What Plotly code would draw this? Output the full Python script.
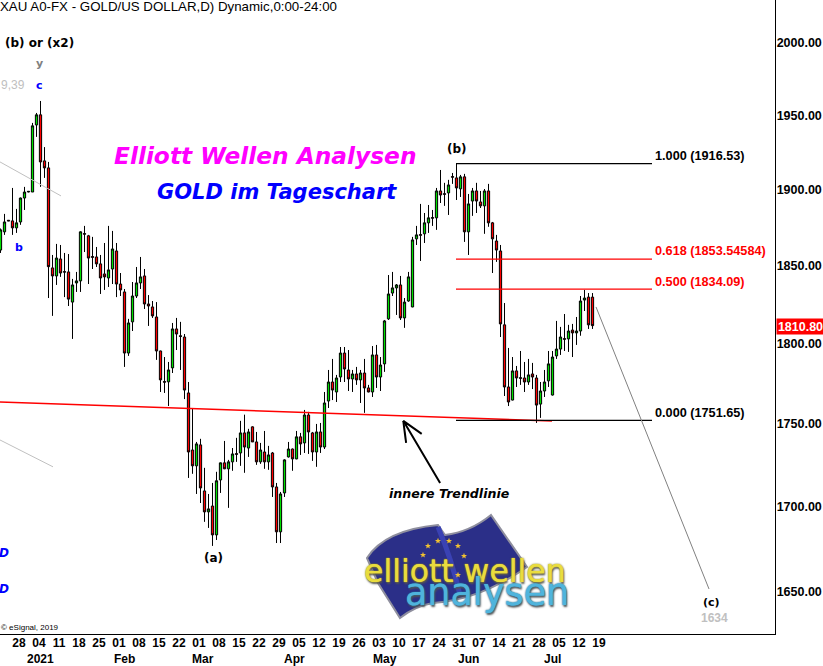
import math
import plotly.graph_objects as go

bar_index = list(range(-3, 146))
opens = [
    1859.4, 1871.3, 1878.9, 1878.5, 1873.9, 1877.8, 1893.6, 1897.6, 1897.6, 1942.7,
    1949.6, 1918.4, 1913.7, 1847.8, 1842.6, 1853.6, 1845.4, 1845.2, 1825.8, 1838.1,
    1839.4, 1870.2, 1868.7, 1855.2, 1854.9, 1850.4, 1843.9, 1841.3, 1847.1, 1858.8,
    1837.4, 1832.3, 1793.5, 1813.2, 1829.7, 1838.1, 1842.6, 1824.6, 1822.7, 1816.3,
    1794.8, 1775.7, 1775.5, 1784.2, 1808.7, 1804.4, 1803.6, 1768.6, 1733.6, 1724.0,
    1736.7, 1708.9, 1696.4, 1699.9, 1682.8, 1715.5, 1725.8, 1722.2, 1726.4, 1731.4,
    1731.8, 1744.0, 1734.8, 1747.7, 1738.5, 1726.4, 1732.4, 1726.4, 1731.8, 1711.3,
    1684.6, 1707.7, 1729.4, 1734.2, 1728.2, 1741.6, 1737.9, 1755.0, 1744.0, 1732.4,
    1744.6, 1735.4, 1763.6, 1775.4, 1769.2, 1778.5, 1793.5, 1782.9, 1777.3, 1780.4,
    1776.7, 1781.0, 1771.7, 1769.2, 1792.3, 1778.5, 1786.7, 1815.1, 1831.6, 1834.9,
    1836.8, 1815.7, 1826.5, 1822.7, 1866.7, 1869.5, 1870.0, 1877.2, 1880.7, 1880.5,
    1898.3, 1896.5, 1897.0, 1907.9, 1907.0, 1899.7, 1907.7, 1871.3, 1891.6, 1898.3,
    1891.0, 1888.4, 1898.3, 1877.2, 1865.3, 1858.8, 1811.3, 1772.3, 1764.2, 1782.3,
    1778.1, 1777.9, 1775.4, 1780.4, 1777.9, 1761.7, 1769.8, 1776.1, 1767.3, 1791.7,
    1796.0, 1802.6, 1802.4, 1808.0, 1806.2, 1807.4, 1827.1, 1829.0, 1829.0,
]
highs = [
    1873.5, 1883.1, 1879.0, 1900.3, 1886.4, 1893.9, 1901.0, 1898.2, 1944.1, 1950.9,
    1959.1, 1927.7, 1917.7, 1856.2, 1863.4, 1862.7, 1857.5, 1856.8, 1840.7, 1845.2,
    1871.6, 1875.2, 1869.3, 1868.0, 1861.4, 1856.2, 1864.0, 1875.2, 1871.9, 1864.0,
    1844.5, 1834.2, 1815.1, 1838.7, 1848.4, 1854.9, 1847.1, 1830.3, 1826.5, 1825.8,
    1795.0, 1791.0, 1787.9, 1812.5, 1815.7, 1813.2, 1805.5, 1775.4, 1759.3, 1738.5,
    1740.4, 1722.8, 1707.1, 1713.7, 1720.4, 1726.0, 1739.1, 1727.6, 1734.8, 1741.0,
    1751.4, 1755.2, 1746.5, 1748.0, 1744.6, 1737.9, 1745.2, 1736.1, 1732.4, 1713.7,
    1708.3, 1728.0, 1738.5, 1734.5, 1745.2, 1744.0, 1758.1, 1756.9, 1744.6, 1749.5,
    1750.1, 1769.2, 1782.9, 1789.8, 1779.8, 1797.3, 1797.3, 1795.4, 1782.9, 1784.8,
    1782.9, 1789.8, 1773.6, 1797.9, 1798.6, 1791.0, 1814.4, 1843.2, 1845.2, 1837.4,
    1842.6, 1828.4, 1845.2, 1868.0, 1875.2, 1889.7, 1883.7, 1889.0, 1885.7, 1900.3,
    1912.3, 1903.7, 1905.7, 1910.3, 1916.5, 1909.0, 1909.7, 1896.3, 1900.3, 1903.7,
    1898.3, 1899.6, 1903.0, 1877.8, 1869.3, 1862.7, 1825.2, 1796.7, 1791.0, 1785.4,
    1794.8, 1787.9, 1789.8, 1787.3, 1779.8, 1775.4, 1782.9, 1794.8, 1794.8, 1813.8,
    1810.0, 1818.2, 1811.3, 1811.9, 1816.3, 1829.7, 1833.6, 1831.6, 1831.6,
]
lows = [
    1857.5, 1869.3, 1878.5, 1869.3, 1870.6, 1875.9, 1885.7, 1897.4, 1897.6, 1934.6,
    1901.0, 1907.0, 1828.4, 1817.0, 1836.8, 1842.0, 1829.0, 1823.3, 1802.4, 1832.3,
    1832.3, 1858.1, 1837.4, 1847.1, 1848.4, 1831.0, 1833.6, 1835.5, 1837.4, 1829.0,
    1829.7, 1784.8, 1791.7, 1807.4, 1828.4, 1834.2, 1821.4, 1810.6, 1815.7, 1789.2,
    1769.2, 1768.6, 1760.5, 1781.0, 1795.4, 1782.9, 1764.8, 1716.7, 1719.2, 1707.1,
    1701.7, 1690.5, 1686.9, 1676.3, 1679.8, 1707.7, 1722.0, 1698.8, 1721.0, 1726.4,
    1724.0, 1719.8, 1729.4, 1738.5, 1724.6, 1725.2, 1722.2, 1721.6, 1705.3, 1678.0,
    1678.0, 1705.3, 1729.0, 1721.0, 1728.0, 1730.6, 1731.8, 1731.2, 1727.0, 1723.4,
    1731.8, 1734.2, 1759.3, 1764.2, 1763.0, 1775.4, 1775.4, 1769.8, 1769.2, 1773.6,
    1762.4, 1756.3, 1769.0, 1766.1, 1771.7, 1769.8, 1781.7, 1814.4, 1829.7, 1817.6,
    1814.4, 1809.4, 1826.0, 1822.5, 1862.7, 1852.3, 1864.0, 1870.6, 1875.2, 1872.6,
    1890.3, 1888.4, 1882.4, 1903.0, 1892.3, 1894.3, 1864.7, 1856.2, 1881.8, 1883.7,
    1887.0, 1870.0, 1874.6, 1844.5, 1851.7, 1803.6, 1766.7, 1760.5, 1764.0, 1772.3,
    1773.6, 1769.2, 1773.6, 1771.0, 1750.1, 1753.2, 1766.1, 1772.3, 1767.0, 1789.8,
    1792.3, 1794.8, 1794.2, 1791.0, 1798.6, 1804.4, 1820.1, 1808.7, 1808.7,
]
closes = [
    1872.6, 1877.8, 1878.5, 1873.9, 1877.2, 1893.6, 1897.6, 1898.0, 1942.1, 1949.6,
    1917.7, 1913.7, 1848.6, 1842.6, 1854.2, 1844.5, 1845.1, 1827.7, 1836.8, 1839.4,
    1871.3, 1869.8, 1854.2, 1854.7, 1850.4, 1841.3, 1842.0, 1846.5, 1860.1, 1837.4,
    1833.6, 1793.5, 1812.5, 1829.7, 1838.1, 1842.0, 1824.6, 1823.3, 1817.0, 1794.8,
    1776.7, 1775.3, 1782.9, 1808.7, 1805.5, 1804.0, 1770.4, 1732.4, 1724.0, 1737.3,
    1710.7, 1696.4, 1698.2, 1682.8, 1715.0, 1725.8, 1722.2, 1726.4, 1731.2, 1731.0,
    1744.0, 1735.4, 1744.6, 1738.5, 1726.4, 1733.6, 1726.4, 1730.6, 1711.3, 1684.6,
    1707.1, 1727.6, 1734.2, 1728.2, 1741.6, 1737.3, 1755.0, 1744.6, 1732.4, 1744.6,
    1735.4, 1762.4, 1775.4, 1770.4, 1777.9, 1793.5, 1783.5, 1777.3, 1780.4, 1776.7,
    1781.0, 1771.7, 1769.2, 1792.3, 1778.5, 1786.0, 1813.8, 1831.0, 1834.9, 1836.8,
    1815.7, 1825.8, 1842.0, 1866.0, 1869.3, 1869.1, 1877.2, 1880.5, 1880.3, 1898.3,
    1895.6, 1896.1, 1902.3, 1907.5, 1900.3, 1907.7, 1871.3, 1889.7, 1898.3, 1891.6,
    1888.4, 1898.3, 1877.2, 1866.7, 1859.4, 1811.9, 1772.3, 1763.0, 1782.3, 1777.9,
    1777.7, 1775.4, 1779.8, 1778.5, 1761.1, 1769.8, 1775.4, 1786.7, 1791.0, 1796.0,
    1803.6, 1802.2, 1807.4, 1806.2, 1807.4, 1826.5, 1828.4, 1811.3, 1810.8,
]
assert len({len(bar_index), len(opens), len(highs), len(lows), len(closes)}) == 1

week_ticks = ["28", "04", "11", "18", "25", "01", "08", "15", "22", "01", "08", "15", "22", "29", "05",
              "12", "19", "26", "03", "10", "17", "24", "31", "07", "14", "21", "28", "05", "12", "19"]
week_tick_bars = list(range(0, 150, 5))
month_labels = ["2021", "Feb", "Mar", "Apr", "May", "Jun", "Jul"]
month_bars = [7.1, 27.9, 47.6, 70.6, 93.1, 113.9, 135.1]
price_ticks = [1650, 1700, 1750, 1800, 1850, 1900, 1950, 2000]

fib_levels = [1916.53, 1853.54584, 1834.09, 1751.65]
fib_text = ["1.000 (1916.53)", "0.618 (1853.54584)", "0.500 (1834.09)", "0.000 (1751.65)"]
fib_colors = ["#000000", "#ff0000", "#ff0000", "#000000"]
fib_label_px = [156, 251, 282, 413]
fib_start, fib_end = 110.875, 159.875
trend_x, trend_y = [-3.125, 134.875], [1763.0, 1751.3]
wave_x, wave_y = [145.875, 174.125], [1822.7, 1651.2]
old_a_x, old_a_y = [-3.125, 12.125], [1917.7, 1895.0]
old_b_x, old_b_y = [-3.125, 10.125], [1739.7, 1723.4]
arrow_x = [106.9, 97.7, 102.3, None, 97.7, 98.4]
arrow_y = [1713.7, 1751.4, 1743.4, None, 1751.4, 1737.9]

W, H, PW, PH = 823, 666, 775, 634
SANS = "Liberation Sans"
WIDE = "DejaVu Sans"


def px_x(v):
    return v / PW


def px_y(v):
    return 1 - v / PH


def pt(a, b):
    return f"{px_x(a):.4f},{px_y(b):.4f}"


def note(text, x, y, size=12, color="#000000", family=SANS, anchor="center", **extra):
    return dict(text=text, xref="paper", yref="paper", x=px_x(x), y=px_y(y), showarrow=False,
                xanchor=anchor, yanchor="middle", font=dict(size=size, color=color, family=family, **extra.pop("font", {})),
                borderpad=0, **extra)


fig = go.Figure()
fig.add_trace(go.Candlestick(
    x=bar_index, open=opens, high=highs, low=lows, close=closes, whiskerwidth=0,
    increasing=dict(line=dict(color="#000000", width=1), fillcolor="#00e000"),
    decreasing=dict(line=dict(color="#000000", width=1), fillcolor="#ff0000"),
    hoverinfo="skip", showlegend=False))


def line(xs, ys, color, width=1.3):
    fig.add_trace(go.Scatter(x=xs, y=ys, mode="lines", line=dict(color=color, width=width),
                             hoverinfo="skip", showlegend=False))


line(trend_x, trend_y, "#ff0000", 1.4)
for level, color in zip(fib_levels, fib_colors):
    line([fib_start, fib_end], [level, level], color, 1.2)
line(wave_x, wave_y, "#808080", 1)
line(old_a_x, old_a_y, "#c0c0c0", 1)
line(old_b_x, old_b_y, "#c0c0c0", 1)
line(arrow_x, arrow_y, "#000000", 2)

notes = [
    note("XAU A0-FX - GOLD/US DOLLAR,D) Dynamic,0:00-24:00", -1, 6, 13.3, anchor="left"),
    note("<b>(b) or (x2)</b>", 3.5, 42.5, 12, family=WIDE, anchor="left"),
    note("<b>y</b>", 39, 63, 11, "#808080", WIDE),
    note("9,39", 26, 85, 12, "#c0c0c0", anchor="right"),
    note("<b>c</b>", 39, 85, 11, "#0000ff", WIDE),
    note("<b>b</b>", 19, 247, 11, "#0000ff", WIDE),
    note("<b><i>D</i></b>", -2, 553, 12, "#0000ff", WIDE, anchor="left"),
    note("<b><i>D</i></b>", -2, 589, 12, "#0000ff", WIDE, anchor="left"),
    note("© eSignal, 2019", 0, 627, 8, "#000000", SANS, anchor="left"),
    note("<b><i>Elliott Wellen Analysen</i></b>", 265, 155.5, 23.3, "#ff00ff", WIDE),
    note("<b><i>GOLD im Tageschart</i></b>", 277, 192, 21, "#0000ff", WIDE),
    note("<b>(b)</b>", 457, 149, 12, family=WIDE),
    note("<b>(a)</b>", 213, 558, 12, family=WIDE),
    note("<b>(c)</b>", 711, 602, 11, family=WIDE),
    note("<b>1634</b>", 714, 618, 12, "#c0c0c0"),
    note("<b><i>innere Trendlinie</i></b>", 449.5, 493, 12.6, family=WIDE),
    note("<b>1810.80</b>", 776, 326, 12.5, "#ffffff", anchor="left", bgcolor="#ff0000", width=47, height=15, align="center"),
]
for text, y_px, color in zip(fib_text, fib_label_px, fib_colors):
    notes.append(note(f"<b>{text}</b>", 653.5, y_px, 12.7, color, anchor="left"))
for text, bar in zip(month_labels, month_bars):
    notes.append(dict(text=f"<b>{text}</b>", xref="x", yref="paper", x=bar, y=px_y(659), showarrow=False,
                      xanchor="center", yanchor="middle", font=dict(size=12, color="#000000", family=SANS)))

# Logo: flag drawn as curved paths, lettering as text
flag_path = (f"M {pt(367, 558)} Q {pt(385, 530)} {pt(438, 525)} L {pt(445, 535)} Q {pt(470, 532)} {pt(491, 515)} "
             f"L {pt(527, 567)} Q {pt(480, 600)} {pt(433, 603)} Q {pt(415, 606)} {pt(400, 618)} L {pt(378, 583)} Z")
fig.add_shape(type="path", path=flag_path, xref="paper", yref="paper", fillcolor="#2b2f88",
              line=dict(color="#8f8f9e", width=2), layer="below")
fold_path = f"M {pt(438, 527)} Q {pt(452, 560)} {pt(460, 595)}"
fig.add_shape(type="path", path=fold_path, xref="paper", yref="paper", line=dict(color="#3a42b4", width=5), layer="below")


def star(cx, cy, r=3.2):
    corners = []
    for k in range(10):
        rad = r if k % 2 == 0 else r * 0.42
        ang = -math.pi / 2 + k * math.pi / 5
        corners.append(pt(cx + rad * math.cos(ang), cy + rad * math.sin(ang)))
    return "M " + " L ".join(corners) + " Z"


for sx, sy in [(428, 546), (438, 541), (449, 541), (458, 546), (464, 556), (423, 555), (458, 575)]:
    fig.add_shape(type="path", path=star(sx, sy), xref="paper", yref="paper", fillcolor="#f2c230",
                  line=dict(width=0), layer="below")

notes.append(note("elliott wellen", 465, 571, 31.5, "#e9dc3e", WIDE,
                  font=dict(shadow="0 0 1px #e9dc3e, 0 0 2px #6b6510, 1px 2px 2px #555")))
notes.append(note("analysen", 487, 592, 36.5, "#4fb4dc", WIDE,
                  font=dict(shadow="0 0 1px #4fb4dc, 0 0 2px #12506e, 1px 2px 2px #555")))

fig.update_layout(
    width=W, height=H, margin=dict(l=0, r=W - PW, t=0, b=H - PH, pad=0),
    paper_bgcolor="#ffffff", plot_bgcolor="#ffffff", annotations=notes, showlegend=False,
    hovermode=False, dragmode=False,
    xaxis=dict(range=[-3.125, 190.625], showgrid=False, zeroline=False, showline=True, linecolor="#000000", linewidth=1.3,
               rangeslider=dict(visible=False), tickmode="array", tickvals=[b + 1.625 for b in week_tick_bars],
               ticktext=[f"<b>{t}</b>" for t in week_ticks], ticklen=0, tickangle=0, ticklabelstandoff=-3,
               tickfont=dict(size=12, color="#000000", family=SANS)),
    yaxis=dict(type="log", range=[3.21095, 3.30742], side="right", showgrid=False, zeroline=False, showline=True,
               linecolor="#000000", linewidth=1.3, tickmode="array", tickvals=price_ticks,
               ticktext=[f"<b>{p:.2f}</b>" for p in price_ticks], ticklen=0, ticklabelstandoff=-2, ticklabelshift=1,
               tickfont=dict(size=12.5, color="#000000", family=SANS)),
    boxgap=0.2,
)
fig.write_html("out.html", config=dict(displayModeBar=False), post_script="document.body.style.margin='0';")
